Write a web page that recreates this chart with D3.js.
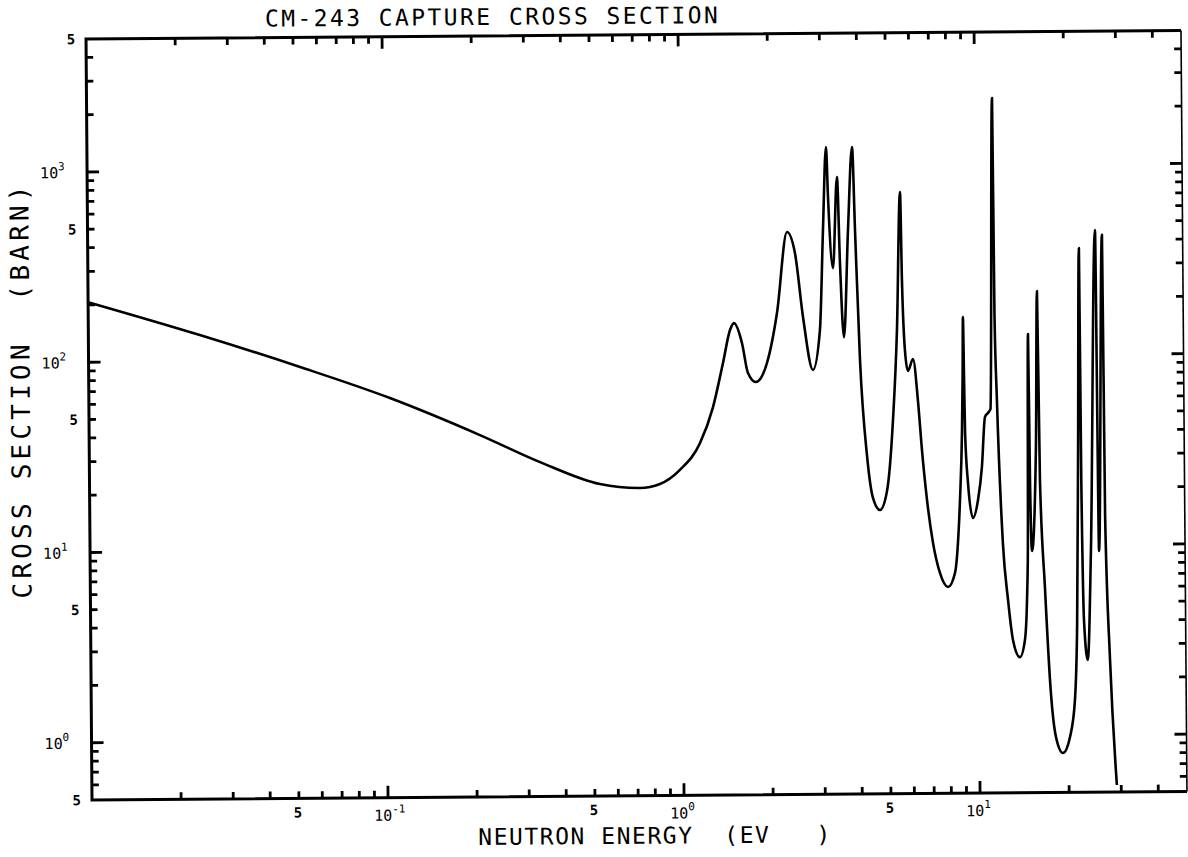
<!DOCTYPE html>
<html>
<head>
<meta charset="utf-8">
<script src="https://cdn.jsdelivr.net/npm/d3@7"></script>
<style>
  body { margin: 0; background: #fff; }
  svg text { font-family: "DejaVu Sans Mono", monospace; fill: #000; }
</style>
</head>
<body>
<svg id="chart" width="1188" height="857"></svg>
<script>
// Cm-243 capture cross section, point-wise (energy in eV, cross section in barn)
const energy = [
  0.01, 0.0238, 0.0518, 0.104, 0.209, 0.333, 0.530, 0.723, 0.845, 0.988,
  1.157, 1.283, 1.390, 1.471, 1.518, 1.613, 1.687, 1.794, 1.957, 2.122,
  2.305, 2.449, 2.597, 2.798, 2.961, 3.050, 3.138, 3.178, 3.289, 3.411,
  3.474, 3.568, 3.705, 3.842, 3.913, 4.036, 4.236, 4.43, 4.671, 4.94,
  5.20, 5.39, 5.565, 5.62, 5.73, 5.856, 6.095, 6.32, 6.50, 6.74,
  7.04, 7.42, 7.89, 8.34, 8.55, 8.71, 8.88, 8.96, 9.01, 9.06,
  9.10, 9.28, 9.625, 10.02, 10.35, 10.63, 10.88, 11.1, 11.45, 11.52,
  11.68, 12.13, 12.58, 13.04, 13.75, 14.31, 14.58, 14.72, 14.93, 15.03,
  15.2, 15.78, 16.05, 16.24, 16.77, 17.43, 18.11, 19.1, 20.2, 21.04,
  21.5, 21.9, 22.3, 22.4, 22.7, 23.3, 24.04, 25.3, 25.6, 26.7,
  26.9, 27.7, 29.0
];
const sigma = [
  207, 137.6, 92.5, 63, 39.9, 28.6, 21.8, 20.7, 21.7, 25.7,
  35.5, 54.8, 93.3, 139, 151, 118.7, 82.5, 73.9, 92.9, 170,
  453, 351, 162, 85, 137.9, 462, 1262, 689, 291, 877,
  310, 126, 461, 1259, 461, 95.5, 30.2, 17.9, 15.5, 19.5,
  46.6, 136.8, 727, 250, 106, 83.2, 96.2, 57.8, 31.9, 17.4,
  10.4, 7.2, 6.07, 7.19, 10.33, 17.4, 39.1, 80, 159, 70,
  39, 21.3, 13.96, 17.35, 25.9, 47.3, 49.7, 52, 2247, 160.6,
  57.4, 10.2, 5.16, 3.18, 2.58, 3.17, 5.15, 9.3, 128.8, 22,
  9.31, 34, 216, 22, 6.02, 1.73, 0.978, 0.805, 0.977, 1.53,
  3.88, 33.8, 363, 21.9, 3.88, 2.48, 9.26, 450, 9.25, 424,
  14.1, 2.5, 0.544
];

// axis extents and labelled ticks
const xDomain = [0.01, 50];
const yDomain = [0.5, 5000];
const xLabelValues = [0.05, 0.1, 0.5, 1, 5, 10];
const xLabelBase   = ["5", "10", "5", "10", "5", "10"];
const xLabelExp    = ["", "-1", "", "0", "", "1"];
const yLabelValues = [0.5, 1, 5, 10, 50, 100, 500, 1000, 5000];
const yLabelBase   = ["5", "10", "5", "10", "5", "10", "5", "10", "5"];
const yLabelExp    = ["", "0", "", "1", "", "2", "", "3", ""];

const titleText = "CM-243 CAPTURE CROSS SECTION";
const xTitleText = "NEUTRON ENERGY  (EV   )";
const yTitleText = "CROSS SECTION  (BARN)";

const L = 92, R = 1187, T = 39, B = 800;

const svg = d3.select("#chart");
// the whole plotter sheet sits very slightly tilted
const g = svg.append("g").attr("transform", `rotate(-0.45, ${L}, ${B})`);

const x = d3.scaleLog().domain(xDomain).range([L, R]);
const y = d3.scaleLog().domain(yDomain).range([B, T]);

const isDecade = v => Math.abs(Math.log10(v) - Math.round(Math.log10(v))) < 1e-9;
const tickLen = v => isDecade(v) ? 12 : 7;
const xTicks = x.ticks().filter(v => v > xDomain[0] && v < xDomain[1]);
const yTicks = y.ticks().filter(v => v > yDomain[0] && v < yDomain[1]);

// tick marks, drawn as plain strokes pointing into the frame
function tickPath(ticksArr, scale, edge, dir, horizontal) {
  return ticksArr.map(v => {
    const p = scale(v), len = tickLen(v) * dir;
    return horizontal
      ? `M${p},${edge}V${edge + len}`
      : `M${edge},${p}H${edge + len}`;
  }).join("");
}
const tickSpecs = [
  [xTicks, x, B, -1, true],
  [xTicks, x, T, 1, true],
  [yTicks, y, L, 1, false],
  [yTicks, y, R, -1, false]
];
g.append("g").selectAll("path").data(tickSpecs).join("path")
  .attr("d", s => tickPath(...s))
  .attr("fill", "none")
  .attr("stroke", "#000")
  .attr("stroke-width", 2.8);

// frame: heavy left/bottom/top, lighter right edge
g.append("path")
  .attr("d", `M${R},${T}H${L}V${B}H${R}`)
  .attr("fill", "none").attr("stroke", "#000").attr("stroke-width", 3);
g.append("line")
  .attr("x1", R).attr("x2", R).attr("y1", T).attr("y2", B)
  .attr("stroke", "#000").attr("stroke-width", 1.6);

// cross-section curve
const pts = energy.map((e, i) => [e, sigma[i]]);
const line = d3.line()
  .x(d => x(d[0]))
  .y(d => y(d[1]))
  .curve(d3.curveMonotoneX);
g.append("path")
  .attr("d", line(pts))
  .attr("fill", "none")
  .attr("stroke", "#000")
  .attr("stroke-width", 2.6)
  .attr("stroke-linejoin", "round");

// x tick labels
xLabelValues.forEach((v, i) => {
  const px = x(v);
  if (xLabelExp[i] === "") {
    g.append("text").attr("x", px - 1).attr("y", B + 19)
      .attr("text-anchor", "middle").attr("font-size", 14).attr("font-weight", "bold")
      .text(xLabelBase[i]);
  } else {
    const t = g.append("text").attr("x", px - 14).attr("y", B + 23)
      .attr("font-size", 15);
    t.append("tspan").text(xLabelBase[i]);
    t.append("tspan").attr("dy", -8).attr("font-size", 11).text(xLabelExp[i]);
  }
});

// y tick labels
yLabelValues.forEach((v, i) => {
  const py = y(v);
  if (yLabelExp[i] === "") {
    g.append("text").attr("x", L - 11).attr("y", py + 5)
      .attr("text-anchor", "end").attr("font-size", 14).attr("font-weight", "bold")
      .text(yLabelBase[i]);
  } else {
    const t = g.append("text").attr("x", L - 47).attr("y", py + 6)
      .attr("font-size", 15);
    t.append("tspan").text(yLabelBase[i]);
    t.append("tspan").attr("dy", -8).attr("font-size", 11).text(yLabelExp[i]);
  }
});

// titles
g.append("text").attr("x", 271).attr("y", 28)
  .attr("font-size", 23).attr("textLength", 453).attr("lengthAdjust", "spacing")
  .style("white-space", "pre").text(titleText);

g.append("text").attr("x", 478).attr("y", 848)
  .attr("font-size", 23).attr("textLength", 352).attr("lengthAdjust", "spacing")
  .style("white-space", "pre").text(xTitleText);

g.append("text")
  .attr("transform", "translate(33,598) rotate(-90)")
  .attr("font-size", 26).attr("textLength", 413).attr("lengthAdjust", "spacing")
  .style("white-space", "pre").text(yTitleText);
</script>
</body>
</html>
